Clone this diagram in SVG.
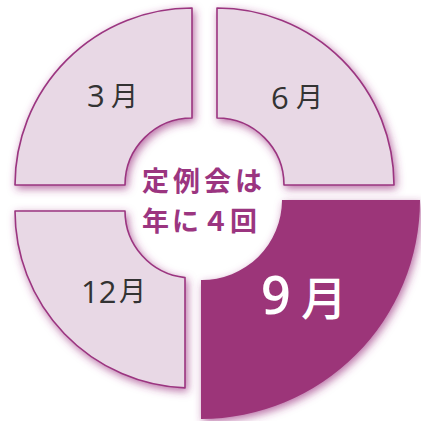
<svg xmlns="http://www.w3.org/2000/svg" width="421" height="421" viewBox="0 0 421 421">
<defs>
<filter id="glow" x="-20%" y="-20%" width="140%" height="140%">
<feDropShadow dx="2" dy="3" stdDeviation="4.5" flood-color="#9b3580" flood-opacity="0.7"/>
</filter>
<style>
.seg{fill:#e8d8e5;stroke:#9b3580;stroke-width:1.6;stroke-linejoin:round;filter:url(#glow)}
.hi{fill:#9c3579;filter:url(#glow)}
.d{font-family:"Open Sans","Liberation Sans",sans-serif;font-size:31px;fill:#333333}
.k{font-family:"Noto Sans CJK JP",sans-serif;font-size:27px;fill:#333333}
.dw{font-family:"Open Sans","Liberation Sans",sans-serif;font-size:52px;fill:#ffffff;font-weight:600}
.kw{font-family:"Noto Sans CJK JP",sans-serif;font-size:46px;fill:#ffffff;font-weight:500}
.c{font-family:"Noto Sans CJK JP",sans-serif;font-size:27px;font-weight:bold;fill:#9b3580}
</style>
</defs>
<rect width="421" height="421" fill="#ffffff"/>
<g id="mar">
<path class="seg" d="M15,185 A177,177 0 0 1 192,8 L192,118 A67,67 0 0 0 125,185 Z"/>
<text x="87" y="107"><tspan class="d">3</tspan><tspan class="k" x="111" y="106">月</tspan></text>
</g>
<g id="jun">
<path class="seg" d="M217,8 A177,177 0 0 1 394,185 L284,185 A67,67 0 0 0 217,118 Z"/>
<text x="271" y="109"><tspan class="d">6</tspan><tspan class="k" x="296" y="107">月</tspan></text>
</g>
<g id="dec">
<path class="seg" d="M15,211 L125,211 A67,67 0 0 0 185,277.6 L185,387.9 A177,177 0 0 1 15,211 Z"/>
<text x="81" y="303"><tspan class="d">12</tspan><tspan class="k" x="119" y="301">月</tspan></text>
</g>
<g id="sep">
<path class="hi" d="M282,200 L420,200 A219,219 0 0 1 201,419 L201,280 A80,80 0 0 0 282,200 Z"/>
<text x="261" y="314"><tspan class="dw">9</tspan><tspan class="kw" x="301" y="315">月</tspan></text>
</g>
<g id="center">
<text class="c" x="142" y="190.5" letter-spacing="4">定例会は</text>
<text class="c" y="231"><tspan x="142">年</tspan><tspan x="172">に</tspan><tspan x="202">４</tspan><tspan x="230">回</tspan></text>
</g>
<g id="connectors"/>
</svg>
